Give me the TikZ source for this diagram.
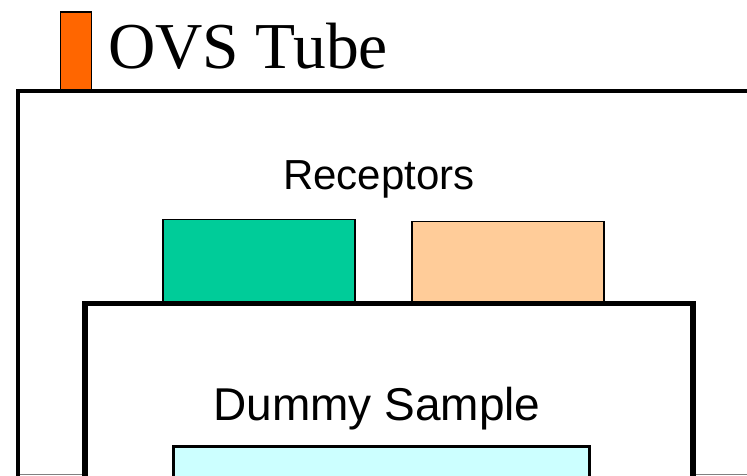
\documentclass[tikz,border=0pt]{standalone}
\usepackage{fontspec}
\setmainfont{Liberation Serif}
\setsansfont{Liberation Sans}
\usepackage{xcolor}
\usetikzlibrary{positioning}
\definecolor{tabOrange}{HTML}{FF6600}
\definecolor{recGreen}{HTML}{00CC99}
\definecolor{recPeach}{HTML}{FFCC99}
\definecolor{sampleCyan}{HTML}{CCFFFF}
\tikzset{
  platebox/.style={
    rectangle, draw=black, line width=1.5pt, inner sep=0pt,
    anchor=north west
  },
  tubewall/.style={line width=3.5pt, color=black},
  labeltext/.style={font=\sffamily, inner sep=0pt, anchor=base}
}

\begin{document}
\begin{tikzpicture}[x=1pt, y=-1pt]
  \useasboundingbox (0,0) rectangle (747,475);
  \clip (0,0) rectangle (747,475);

  % tube outline and title tab
  \draw[gray, line width=1pt] (18,474.5) -- (747,474.5);
  \coordinate (tubeBL) at (18,480);
  \coordinate (tubeTL) at (18,91);
  \coordinate (tubeTR) at (750,91);
  \draw[tubewall] (tubeBL) -- (tubeTL) -- (tubeTR);
  \node[platebox, fill=tabOrange, minimum width=31pt, minimum height=78pt] (tab) at (59.5,11) {};
  \node[inner sep=0pt, anchor=base west, font=\fontsize{65.5}{72}\selectfont] (title) at (108,68) {OVS Tube};

  % receptors on the sample
  \node[labeltext, font=\sffamily\fontsize{42}{48}\selectfont] (reclabel) at (379,189) {Receptors};
  \node[platebox, fill=recGreen, minimum width=192pt, minimum height=82pt] (recA) at (162,218.5) {};
  \node[platebox, fill=recPeach, minimum width=192pt, minimum height=82pt] (recB) at (411,220.5) {};

  % dummy sample block
  \node[platebox, fill=white, line width=5.5pt, minimum width=608pt, minimum height=200pt] (sample) at (82,300.5) {};
  \node[labeltext, font=\sffamily\fontsize{46}{52}\selectfont] (samplelabel) at (377,420) {Dummy Sample};
  \node[platebox, fill=sampleCyan, line width=3pt, minimum width=416pt, minimum height=40pt] (pad) at (172,445) {};
\end{tikzpicture}
\end{document}
